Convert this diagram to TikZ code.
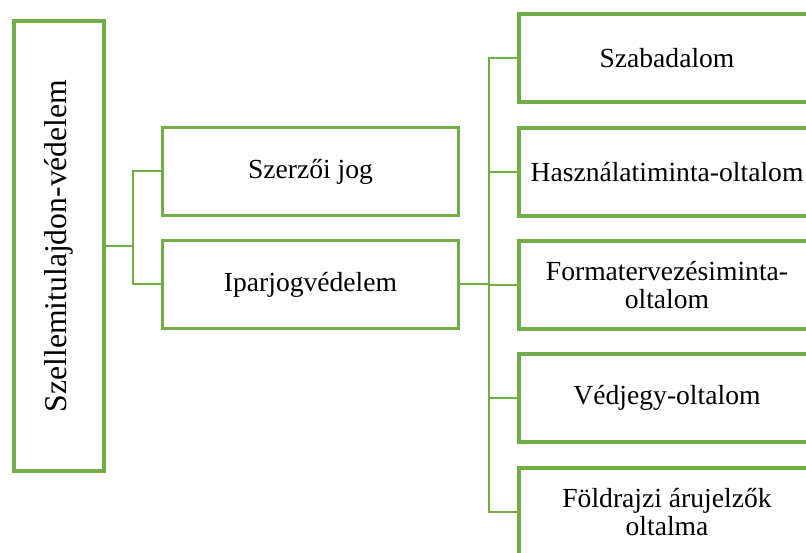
\documentclass[tikz,border=0pt]{standalone}
\usepackage{fontspec}
\setmainfont{Liberation Serif}
\definecolor{ogreen}{HTML}{70AD47}
\tikzset{
  box/.style={draw=ogreen, line width=3.5pt, fill=white, rectangle, inner sep=0pt,
    minimum width=296pt, minimum height=88pt, align=center,
    font=\fontsize{27.6}{28}\selectfont},
  rootbox/.style={draw=ogreen, line width=3.5pt, fill=white, rectangle, inner sep=0pt,
    minimum width=90pt, minimum height=450pt},
  conn/.style={draw=ogreen, line width=2pt}
}
\begin{document}
\begin{tikzpicture}[x=1pt,y=-1pt]
\useasboundingbox (0,0) rectangle (806,553);
\clip (0,0) rectangle (806,553);
\node[rootbox] (root) at (59,246) {};
\node[rotate=90, font=\fontsize{31.7}{33}\selectfont] (roottext) at (59,246) {Szellemitulajdon-védelem};
\node[box] (szerzo) at (310.5,171.5) {Szerzői jog};
\node[box] (ipar) at (310.5,284.5) {Iparjogvédelem};
\node[box] (r1) at (667,58) {Szabadalom};
\node[box] (r2) at (667,172) {Használatiminta-oltalom};
\node[box] (r3) at (667,285) {Formatervezésiminta-\\oltalom};
\node[box] (r4) at (667,398) {Védjegy-oltalom};
\node[box] (r5) at (667,512) {Földrajzi árujelzők\\oltalma};
\coordinate (j1) at (133,246);
\coordinate (j2) at (488.5,284.5);
\draw[conn] (root.east) -- (j1);
\draw[conn] (szerzo.west) -| (j1);
\draw[conn] (ipar.west) -| (j1);
\draw[conn] (ipar.east) -- (j2);
\foreach \n in {r1,r2,r3,r4,r5} {\draw[conn] (\n.west) -| (j2);}
\end{tikzpicture}
\end{document}
